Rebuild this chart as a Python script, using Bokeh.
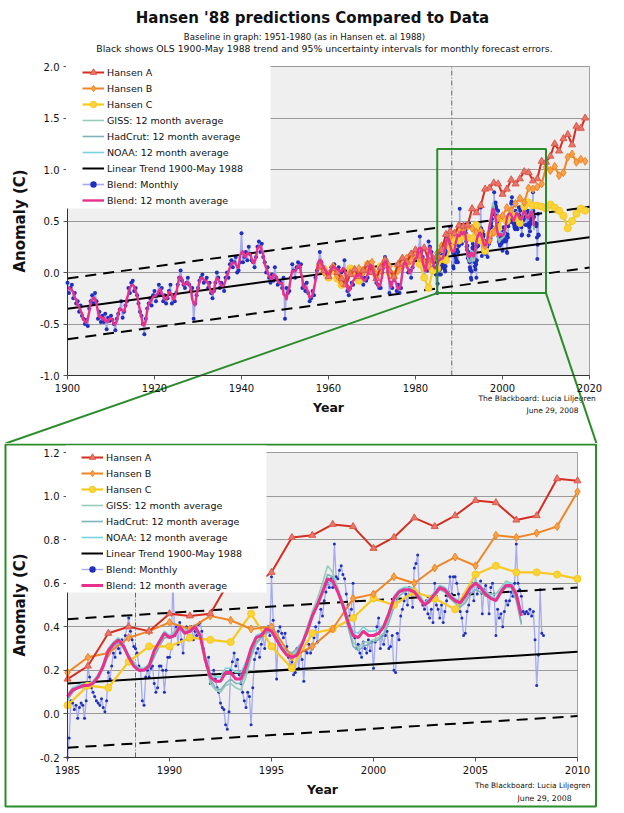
import numpy as np
import pandas as pd
from bokeh.plotting import figure
from bokeh.layouts import column
from bokeh.core.properties import value
from bokeh.models import (Range1d, FixedTicker, NumeralTickFormatter, Legend, LegendItem,
                          BoxAnnotation, LinearAxis, Grid)
from bokeh.embed import file_html
from bokeh.resources import INLINE

FONT = "DejaVu Sans"
GREEN = "#2a8c2a"
INK = "#111111"

# ---------------- data ----------------
# Hansen (1988) scenario projections, annual, 1958-2019
hansen_years = list(range(1958, 2020))
hansen_a = [0.06, 0.02, -0.04, 0.04, 0.00, -0.06, -0.12, -0.02, 0.03, -0.04, 0.02, 0.08, 0.00, -0.06,
            0.05, 0.12, 0.02, -0.04, 0.08, 0.14, 0.10, 0.18, 0.22, 0.16, 0.24, 0.12, 0.14,
            0.16, 0.22, 0.37, 0.40, 0.38, 0.46, 0.45, 0.46, 0.62, 0.58, 0.65, 0.81, 0.82, 0.87, 0.86,
            0.76, 0.81, 0.90, 0.86, 0.91, 0.98, 0.97, 0.89, 0.91, 1.08, 1.07,
            1.13, 1.25, 1.18, 1.30, 1.34, 1.24, 1.42, 1.40, 1.50]
hansen_b = [0.06, 0.00, -0.02, 0.06, -0.03, -0.10, -0.08, 0.00, -0.02, 0.04, 0.00, 0.05, 0.10, -0.02,
            0.02, 0.08, 0.06, -0.05, 0.02, 0.10, 0.14, 0.12, 0.20, 0.14, 0.10, 0.06, 0.12,
            0.19, 0.26, 0.28, 0.35, 0.38, 0.42, 0.39, 0.45, 0.43, 0.39, 0.40, 0.26, 0.31, 0.39, 0.53,
            0.55, 0.63, 0.60, 0.67, 0.72, 0.68, 0.82, 0.81, 0.83, 0.86, 1.02,
            0.99, 1.03, 0.94, 0.97, 1.12, 1.15, 1.07, 1.10, 1.08]
hansen_c = [0.06, 0.03, -0.05, 0.02, -0.06, -0.12, -0.04, 0.04, 0.00, -0.08, 0.02, 0.08, 0.03, -0.04,
            0.06, 0.10, 0.00, -0.02, 0.06, 0.12, 0.08, 0.16, 0.18, 0.08, -0.05, -0.15, 0.02,
            0.04, 0.13, 0.12, 0.24, 0.31, 0.31, 0.35, 0.34, 0.33, 0.46, 0.31, 0.21, 0.37, 0.39, 0.44,
            0.53, 0.50, 0.56, 0.53, 0.48, 0.64, 0.68, 0.65, 0.65, 0.64, 0.62,
            0.66, 0.63, 0.60, 0.55, 0.43, 0.50, 0.57, 0.62, 0.60]

# Blended observations 1900-1984, three readings a year (Jan, May, Sep)
blend_early = [
    -0.10, -0.20, -0.15, -0.12, -0.25, -0.20, -0.30, -0.28, -0.38, -0.32, -0.42, -0.45, -0.50, -0.46, -0.52,
    -0.35, -0.28, -0.22, -0.30, -0.20, -0.28, -0.45, -0.38, -0.48, -0.42, -0.48, -0.40, -0.55, -0.44, -0.47,
    -0.42, -0.46, -0.50, -0.56, -0.45, -0.40, -0.36, -0.28, -0.44, -0.38, -0.32, -0.28, -0.15, -0.20, -0.10,
    -0.08, -0.18, -0.15, -0.22, -0.30, -0.38, -0.42, -0.50, -0.60, -0.45, -0.35, -0.30, -0.25, -0.32, -0.22,
    -0.18, -0.28, -0.22, -0.12, -0.20, -0.15, -0.28, -0.22, -0.30, -0.25, -0.18, -0.12, -0.30, -0.22, -0.28,
    -0.20, -0.12, -0.05, 0.02, -0.08, -0.12, -0.15, -0.10, -0.05, -0.12, -0.18, -0.15, -0.45, -0.30, -0.22,
    -0.15, -0.08, -0.05, -0.02, -0.10, -0.08, -0.05, -0.15, -0.10, -0.20, -0.25, -0.18, -0.10, 0.00, -0.05,
    -0.15, -0.10, -0.12, -0.18, -0.05, 0.00, -0.05, 0.08, 0.12, 0.05, 0.10, 0.15, 0.00, 0.02, 0.10,
    0.38, 0.10, 0.15, 0.20, 0.12, 0.25, 0.18, 0.12, 0.10, 0.05, 0.15, 0.25, 0.30, 0.20, 0.28,
    0.15, 0.10, 0.00, 0.05, -0.05, -0.10, -0.02, -0.08, 0.05, -0.05, -0.12, -0.08, -0.10, -0.15, -0.05,
    -0.45, -0.15, -0.20, -0.18, -0.05, 0.08, 0.02, -0.05, 0.05, 0.10, 0.05, 0.08, -0.15, -0.12, -0.18,
    -0.10, -0.20, -0.28, -0.25, -0.18, -0.22, -0.05, 0.02, 0.08, 0.20, 0.10, 0.05, 0.05, 0.02, 0.00,
    -0.05, 0.00, 0.05, 0.05, 0.08, 0.02, 0.03, 0.05, 0.00, 0.00, 0.02, 0.12, -0.05, -0.18, -0.22,
    -0.15, -0.10, -0.12, -0.02, -0.05, 0.00, -0.05, 0.00, -0.03, -0.12, -0.05, -0.08, -0.05, 0.08, 0.10,
    0.05, 0.02, -0.05, -0.10, -0.12, -0.15, -0.15, 0.00, 0.05, 0.15, 0.12, 0.05, -0.20, -0.10, -0.15,
    -0.02, -0.05, -0.18, -0.12, -0.20, -0.15, 0.05, 0.12, 0.10, 0.08, 0.00, 0.02, -0.05, 0.05, 0.15,
    0.12, 0.15, 0.18, 0.35, 0.20, 0.15, -0.05, 0.05, 0.02, 0.30, 0.25, 0.20, 0.05, 0.10, -0.02,
]

# Blended observations, monthly, Jan 1985 - May 2008
blend_monthly = [
    -0.20, -0.11, 0.06, 0.05, 0.02, 0.04, -0.02, 0.03, 0.05, 0.04, -0.02, 0.06,   # 1985
    0.22, 0.17, 0.12, 0.10, 0.08, 0.06, 0.05, 0.04, 0.07, 0.03, 0.01, 0.06,       # 1986
    0.19, 0.16, 0.22, 0.28, 0.26, 0.33, 0.30, 0.28, 0.34, 0.31, 0.36, 0.40,       # 1987
    0.44, 0.38, 0.34, 0.31, 0.30, 0.28, 0.22, 0.20, 0.06, 0.04, 0.17, 0.20,       # 1988
    0.17, 0.21, 0.22, 0.14, 0.10, 0.12, 0.22, 0.22, 0.20, 0.10, 0.20, 0.26,       # 1989
    0.26, 0.30, 0.62, 0.36, 0.40, 0.32, 0.42, 0.34, 0.28, 0.38, 0.40, 0.34,       # 1990
    0.38, 0.40, 0.34, 0.38, 0.36, 0.41, 0.42, 0.38, 0.30, 0.25, 0.22, 0.26,       # 1991
    0.14, 0.18, 0.20, 0.16, 0.12, 0.10, 0.05, 0.03, 0.02, -0.05, -0.07, 0.01,     # 1992
    0.20, 0.24, 0.28, 0.22, 0.25, 0.18, 0.14, 0.10, 0.06, 0.03, 0.10, 0.08,       # 1993
    -0.05, 0.12, 0.25, 0.28, 0.30, 0.26, 0.32, 0.36, 0.30, 0.38, 0.40, 0.36,      # 1994
    0.63, 0.43, 0.37, 0.16, 0.38, 0.40, 0.37, 0.35, 0.37, 0.31, 0.26, 0.22,       # 1995
    0.24, 0.18, 0.19, 0.30, 0.21, 0.28, 0.25, 0.15, 0.29, 0.28, 0.32, 0.28,       # 1996
    0.30, 0.35, 0.40, 0.33, 0.42, 0.48, 0.45, 0.52, 0.56, 0.60, 0.58, 0.62,       # 1997
    0.58, 0.78, 0.63, 0.62, 0.66, 0.68, 0.64, 0.62, 0.55, 0.50, 0.45, 0.48,       # 1998
    0.60, 0.35, 0.30, 0.32, 0.28, 0.26, 0.33, 0.30, 0.28, 0.34, 0.29, 0.33,       # 1999
    0.21, 0.33, 0.40, 0.44, 0.30, 0.36, 0.32, 0.36, 0.38, 0.30, 0.31, 0.36,       # 2000
    0.20, 0.19, 0.37, 0.34, 0.45, 0.48, 0.52, 0.55, 0.50, 0.58, 0.57, 0.49,       # 2001
    0.67, 0.69, 0.73, 0.55, 0.52, 0.50, 0.48, 0.52, 0.46, 0.44, 0.48, 0.42,       # 2002
    0.60, 0.50, 0.48, 0.44, 0.50, 0.42, 0.47, 0.52, 0.56, 0.63, 0.55, 0.63,       # 2003
    0.63, 0.60, 0.55, 0.47, 0.44, 0.36, 0.37, 0.47, 0.50, 0.55, 0.60, 0.52,       # 2004
    0.64, 0.55, 0.58, 0.61, 0.46, 0.57, 0.59, 0.55, 0.46, 0.58, 0.60, 0.55,       # 2005
    0.36, 0.48, 0.44, 0.46, 0.40, 0.47, 0.52, 0.50, 0.52, 0.56, 0.54, 0.60,       # 2006
    0.78, 0.60, 0.57, 0.54, 0.47, 0.46, 0.47, 0.46, 0.48, 0.45, 0.47, 0.34,       # 2007
    0.13, 0.27, 0.57, 0.37, 0.36,                                                 # 2008
]

# 12 month averages, read quarterly from 1985.0
blend_12mo = [0.08, 0.11, 0.12, 0.13, 0.13, 0.14, 0.17, 0.22, 0.29, 0.32, 0.34, 0.31,
              0.26, 0.22, 0.20, 0.20, 0.22, 0.29, 0.33, 0.37, 0.35, 0.36, 0.40, 0.37,
              0.38, 0.40, 0.36, 0.25, 0.17, 0.15, 0.15, 0.19, 0.19, 0.16, 0.16, 0.22,
              0.30, 0.35, 0.36, 0.39, 0.38, 0.34, 0.30, 0.27, 0.26, 0.27, 0.32, 0.38,
              0.45, 0.50, 0.56, 0.62, 0.61, 0.56, 0.50, 0.42, 0.36, 0.35, 0.38, 0.36,
              0.36, 0.37, 0.40, 0.46, 0.53, 0.56, 0.57, 0.57, 0.56, 0.53, 0.50, 0.52,
              0.55, 0.58, 0.57, 0.54, 0.52, 0.51, 0.54, 0.58, 0.60, 0.58, 0.55, 0.53,
              0.52, 0.56, 0.59, 0.59, 0.55, 0.45]
giss_12mo = [0.06, 0.10, 0.12, 0.13, 0.13, 0.15, 0.18, 0.22, 0.28, 0.31, 0.33, 0.30,
             0.27, 0.24, 0.21, 0.21, 0.21, 0.27, 0.31, 0.35, 0.36, 0.38, 0.40, 0.38,
             0.39, 0.41, 0.36, 0.24, 0.14, 0.11, 0.10, 0.13, 0.14, 0.12, 0.11, 0.17,
             0.26, 0.32, 0.35, 0.38, 0.39, 0.35, 0.31, 0.28, 0.27, 0.29, 0.33, 0.40,
             0.47, 0.53, 0.60, 0.68, 0.65, 0.58, 0.51, 0.41, 0.33, 0.30, 0.33, 0.33,
             0.34, 0.35, 0.37, 0.44, 0.51, 0.56, 0.58, 0.58, 0.58, 0.55, 0.51, 0.53,
             0.56, 0.59, 0.58, 0.55, 0.52, 0.50, 0.52, 0.57, 0.59, 0.58, 0.56, 0.55,
             0.55, 0.58, 0.61, 0.60, 0.53, 0.42]
hadcrut_12mo = [0.07, 0.10, 0.12, 0.12, 0.12, 0.14, 0.17, 0.21, 0.27, 0.31, 0.33, 0.31,
                0.27, 0.23, 0.21, 0.20, 0.21, 0.26, 0.31, 0.35, 0.35, 0.37, 0.39, 0.37,
                0.38, 0.39, 0.35, 0.26, 0.16, 0.12, 0.11, 0.14, 0.16, 0.14, 0.14, 0.19,
                0.27, 0.33, 0.35, 0.37, 0.38, 0.35, 0.31, 0.29, 0.28, 0.30, 0.33, 0.37,
                0.44, 0.50, 0.57, 0.64, 0.63, 0.56, 0.49, 0.40, 0.31, 0.29, 0.31, 0.32,
                0.33, 0.34, 0.36, 0.42, 0.49, 0.54, 0.56, 0.57, 0.57, 0.54, 0.50, 0.51,
                0.54, 0.57, 0.56, 0.53, 0.51, 0.49, 0.51, 0.55, 0.57, 0.56, 0.54, 0.53,
                0.53, 0.56, 0.58, 0.58, 0.52, 0.41]
noaa_12mo = [0.09, 0.12, 0.13, 0.14, 0.14, 0.15, 0.18, 0.23, 0.30, 0.33, 0.35, 0.32,
             0.27, 0.23, 0.21, 0.21, 0.23, 0.30, 0.34, 0.38, 0.36, 0.37, 0.41, 0.38,
             0.39, 0.40, 0.37, 0.27, 0.18, 0.17, 0.17, 0.21, 0.21, 0.19, 0.19, 0.24,
             0.31, 0.36, 0.37, 0.40, 0.39, 0.35, 0.31, 0.28, 0.27, 0.28, 0.33, 0.39,
             0.46, 0.51, 0.57, 0.60, 0.60, 0.57, 0.51, 0.44, 0.38, 0.37, 0.40, 0.38,
             0.38, 0.39, 0.41, 0.47, 0.54, 0.57, 0.58, 0.58, 0.57, 0.54, 0.51, 0.53,
             0.56, 0.59, 0.58, 0.55, 0.53, 0.52, 0.55, 0.59, 0.61, 0.59, 0.56, 0.54,
             0.53, 0.57, 0.60, 0.60, 0.56, 0.46]

# OLS trend 1900 - May 1988 and the 95% band for monthly forecast errors
trend_years = [1900, 2020]
trend_values = [-0.353, 0.343]
trend_band = 0.295
may_1988 = 1988 + 4 / 12

# axis windows: full record, and the window shown enlarged in the lower panel
full_years = (1900, 2020)
full_anoms = (-1.0, 2.0)
zoom_years = (1985, 2010)
zoom_anoms = (-0.2, 1.2)

top_xticks = [1900, 1920, 1940, 1960, 1980, 2000, 2020]
top_yticks = [-1.0, -0.5, 0.0, 0.5, 1.0, 1.5, 2.0]
bot_xticks = [1985, 1990, 1995, 2000, 2005, 2010]
bot_yticks = [-0.2, 0.0, 0.2, 0.4, 0.6, 0.8, 1.0, 1.2]

# ---------------- derived series ----------------
early_t = 1900 + np.arange(len(blend_early)) / 3
monthly_t = 1985 + np.arange(len(blend_monthly)) / 12
quarter_t = 1985 + np.arange(len(blend_12mo)) * 0.25
early_avg = pd.Series(blend_early).rolling(3, center=True, min_periods=1).mean().tolist()

# ---------------- page geometry (pixels) ----------------
TOP_W, TOP_H = 624, 443
TOP_BOX = dict(left=67, right=589, top=66, bottom=375)      # plot area of the upper chart
BOT_W, BOT_H = 597, 370
BOT_Y0 = TOP_H                                              # page y where the lower canvas starts
BOT_BOX = dict(left=67, right=577, top=452, bottom=757)     # plot area of the lower chart


def make_mapper(box, xr, yr):
    def fx(px):
        return xr[0] + (px - box["left"]) * (xr[1] - xr[0]) / (box["right"] - box["left"])

    def fy(py):
        return yr[1] - (py - box["top"]) * (yr[1] - yr[0]) / (box["bottom"] - box["top"])
    return fx, fy


top_x, top_y = make_mapper(TOP_BOX, full_years, full_anoms)
bot_x, bot_y = make_mapper(BOT_BOX, zoom_years, zoom_anoms)


def chart_frame(p, xr, yr, xticks, yticks):
    # grey plot area
    p.quad(left=[xr[0]], right=[xr[1]], bottom=[yr[0]], top=[yr[1]],
           fill_color="#efefef", line_color="#a0a0a0", line_width=1, level="image")
    p.add_layout(Grid(dimension=1, ticker=FixedTicker(ticks=yticks), bounds=yr, cross_bounds=xr,
                      grid_line_color="#9a9a9a", grid_line_width=1))
    p.segment(x0=[may_1988], y0=[yr[0]], x1=[may_1988], y1=[yr[1]], line_color="#666666",
              line_width=1, line_dash="5 2 1 2", level="underlay")
    xaxis = LinearAxis(fixed_location=yr[0], bounds=xr, ticker=FixedTicker(ticks=xticks),
                       formatter=NumeralTickFormatter(format="0"), axis_label="Year")
    yaxis = LinearAxis(fixed_location=xr[0], bounds=yr, ticker=FixedTicker(ticks=yticks),
                       formatter=NumeralTickFormatter(format="0.0"), axis_label="Anomaly (C)")
    for ax in (xaxis, yaxis):
        ax.axis_line_color = "#333333"
        ax.major_tick_line_color = "#555555"
        ax.major_tick_out = 4
        ax.major_tick_in = 0
        ax.minor_tick_line_color = None
        ax.major_label_text_font = FONT
        ax.major_label_text_font_size = "10px"
        ax.major_label_text_color = INK
        ax.major_label_standoff = 4
        ax.axis_label_text_font = FONT
        ax.axis_label_text_font_style = "bold"
        ax.axis_label_text_color = INK
    xaxis.axis_label_text_font_size = "12.5px"
    xaxis.axis_label_standoff = 5
    yaxis.axis_label_text_font_size = "15px"
    yaxis.axis_label_standoff = 8
    p.add_layout(xaxis, "below")
    p.add_layout(yaxis, "left")


def add_series(p, blend_x, blend_y, avg_x, avg_y, hx, ha, hb, hc, tx, tv,
               dot_size, mon_width, avg_width):
    r = {}
    r["mon_line"] = p.line(blend_x, blend_y, line_color="#a4a9f0", line_width=mon_width)
    r["mon_dot"] = p.scatter(blend_x, blend_y, marker="circle", size=dot_size,
                             fill_color="#1f2fbf", line_color=None)
    r["trend"] = p.line(tx, tv, line_color="black", line_width=2)
    p.line(tx, [v + trend_band for v in tv], line_color="black", line_width=2, line_dash="11 7")
    p.line(tx, [v - trend_band for v in tv], line_color="black", line_width=2, line_dash="11 7")
    r["giss"] = p.line(quarter_t, giss_12mo, line_color="#98cbb8", line_width=1.6)
    r["had"] = p.line(quarter_t, hadcrut_12mo, line_color="#7fb2bb", line_width=1.6)
    r["noaa"] = p.line(quarter_t, noaa_12mo, line_color="#78d4e0", line_width=1.6)
    r["c_line"] = p.line(hx, hc, line_color="#f7c81e", line_width=2.2)
    r["c_mark"] = p.scatter(hx, hc, marker="circle", size=7, fill_color="#fbd43a", line_color="#f7c81e")
    r["b_line"] = p.line(hx, hb, line_color="#f08524", line_width=2)
    r["b_mark"] = p.scatter(hx, hb, marker="diamond", size=8, fill_color="#f5a24a", line_color="#f08524")
    r["a_line"] = p.line(hx, ha, line_color="#d52d1f", line_width=2)
    r["a_mark"] = p.scatter(hx, ha, marker="triangle", size=7, fill_color="#e8766a", line_color="#de5a4c")
    r["avg"] = p.line(avg_x, avg_y, line_color="#e8308c", line_width=avg_width)
    return r


def add_legend(p, r, box_px, vx, vy, fx, fy):
    p.add_layout(BoxAnnotation(left=fx(box_px[0]), right=fx(box_px[1]), bottom=fy(box_px[3]),
                               top=fy(box_px[2]), fill_color="white", fill_alpha=1, line_color=None))
    items = [
        LegendItem(label="Hansen A", renderers=[r["a_line"], r["a_mark"]]),
        LegendItem(label="Hansen B", renderers=[r["b_line"], r["b_mark"]]),
        LegendItem(label="Hansen C", renderers=[r["c_line"], r["c_mark"]]),
        LegendItem(label="GISS: 12 month average", renderers=[r["giss"]]),
        LegendItem(label="HadCrut: 12 month average", renderers=[r["had"]]),
        LegendItem(label="NOAA: 12 month average", renderers=[r["noaa"]]),
        LegendItem(label="Linear Trend 1900-May 1988", renderers=[r["trend"]]),
        LegendItem(label="Blend: Monthly", renderers=[r["mon_line"], r["mon_dot"]]),
        LegendItem(label="Blend: 12 month average", renderers=[r["avg"]]),
    ]
    p.add_layout(Legend(items=items, location=(vx, vy), padding=0, margin=0, spacing=0,
                        glyph_width=22, glyph_height=16, label_height=16, label_standoff=3,
                        label_text_font=FONT, label_text_font_size="9.5px", label_text_color=INK,
                        background_fill_alpha=0, border_line_color=None))


def put_text(p, x, y, s, size, align="center", bold=False):
    p.text(x=[x], y=[y], text=[s], text_font=value(FONT), text_font_size=value(size),
           text_font_style="bold" if bold else "normal", text_align=align,
           text_baseline="middle", text_color=INK)


def canvas_figure(w, h, fx, fy, y0):
    return figure(width=w, height=h, x_range=Range1d(fx(0), fx(w)), y_range=Range1d(fy(y0 + h), fy(y0)),
                  x_axis_type=None, y_axis_type=None, output_backend="svg", toolbar_location=None,
                  title=None, min_border=0, outline_line_color=None,
                  background_fill_color="white", border_fill_color="white")


# ---------------- upper chart: full record ----------------
top = canvas_figure(TOP_W, TOP_H, top_x, top_y, 0)
chart_frame(top, full_years, full_anoms, top_xticks, top_yticks)
rt = add_series(top, list(early_t) + list(monthly_t), blend_early + blend_monthly,
                list(early_t) + list(quarter_t), early_avg + blend_12mo,
                hansen_years, hansen_a, hansen_b, hansen_c, trend_years, trend_values,
                4, 1.6, 2.4)

put_text(top, top_x(312), top_y(17), "Hansen '88 predictions Compared to Data", "15px", bold=True)
put_text(top, top_x(304), top_y(36), "Baseline in graph: 1951-1980 (as in Hansen et. al 1988)", "8.6px")
put_text(top, top_x(324), top_y(48),
         "Black shows OLS 1900-May 1988 trend and 95% uncertainty intervals for monthly forecast errors.",
         "9.3px")
put_text(top, top_x(478), top_y(398), "The Blackboard: Lucia Liljegren", "7.5px", align="left")
put_text(top, top_x(552), top_y(410), "June 29, 2008", "7.5px")

# zoom window and the lines leading to the enlarged panel
top.quad(left=[zoom_years[0]], right=[zoom_years[1]], bottom=[zoom_anoms[0]], top=[zoom_anoms[1]],
         fill_alpha=0, line_color=GREEN, line_width=2)
top.segment(x0=[zoom_years[0], zoom_years[1]], y0=[zoom_anoms[0], zoom_anoms[0]],
            x1=[top_x(5), top_x(596)], y1=[top_y(TOP_H), top_y(TOP_H)],
            line_color=GREEN, line_width=2)
add_legend(top, rt, (65.5, 270, 56, 208), 82, TOP_H - 208, top_x, top_y)

# ---------------- lower chart: 1985-2010 enlarged ----------------
win = [i for i, yr in enumerate(hansen_years) if zoom_years[0] <= yr <= zoom_years[1]]
zoom_trend = list(np.interp(zoom_years, trend_years, trend_values))

bot = canvas_figure(BOT_W, BOT_H, bot_x, bot_y, BOT_Y0)
chart_frame(bot, zoom_years, zoom_anoms, bot_xticks, bot_yticks)
rb = add_series(bot, monthly_t, blend_monthly, quarter_t, blend_12mo,
                [hansen_years[i] for i in win], [hansen_a[i] for i in win],
                [hansen_b[i] for i in win], [hansen_c[i] for i in win],
                list(zoom_years), zoom_trend, 3, 1.3, 3)

put_text(bot, bot_x(590), bot_y(785), "The Blackboard: Lucia Liljegren", "7.4px", align="right")
put_text(bot, bot_x(544), bot_y(798), "June 29, 2008", "7.8px")

# green border of the enlarged panel
bot.quad(left=[bot_x(5)], right=[bot_x(595.5)], top=[bot_y(BOT_Y0 + 1)], bottom=[bot_y(806)],
         fill_alpha=0, line_color=GREEN, line_width=2)
add_legend(bot, rb, (65.5, 266, 445, 592), 81, BOT_Y0 + BOT_H - 593, bot_x, bot_y)

page = column(top, bot, spacing=0)
open("out.html", "w").write(file_html(page, INLINE, title="Hansen '88 predictions Compared to Data"))
